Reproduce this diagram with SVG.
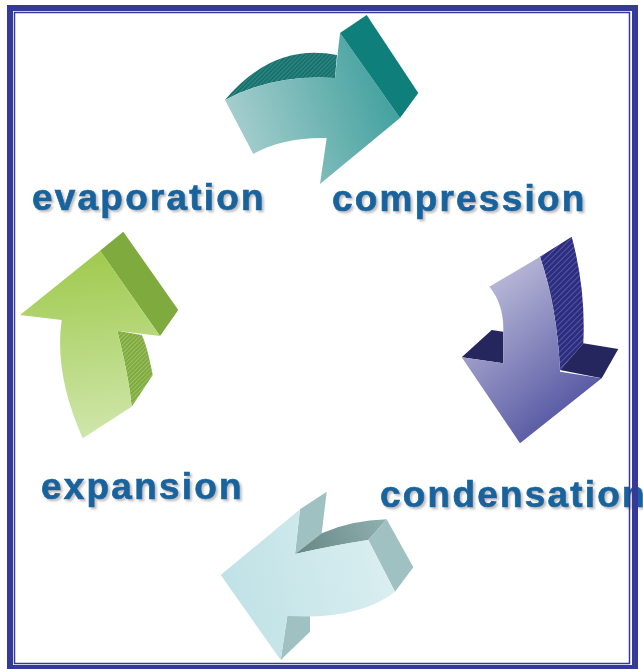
<svg xmlns="http://www.w3.org/2000/svg" width="643" height="669" viewBox="0 0 643 669">
<defs>
<linearGradient id="gTeal" gradientUnits="userSpaceOnUse" x1="235" y1="150" x2="400" y2="95">
<stop offset="0" stop-color="#a9cfcf"/><stop offset="1" stop-color="#3e9f9c"/>
</linearGradient>
<linearGradient id="gPurple" gradientUnits="userSpaceOnUse" x1="480" y1="290" x2="590" y2="420">
<stop offset="0" stop-color="#b9b8d8"/><stop offset="1" stop-color="#4b4d9d"/>
</linearGradient>
<linearGradient id="gCyan" gradientUnits="userSpaceOnUse" x1="230" y1="600" x2="400" y2="560">
<stop offset="0" stop-color="#c0e2e6"/><stop offset="1" stop-color="#dbeff1"/>
</linearGradient>
<linearGradient id="gCyanTop" gradientUnits="userSpaceOnUse" x1="300" y1="550" x2="385" y2="520">
<stop offset="0" stop-color="#6a8888"/><stop offset="1" stop-color="#8fb0b0"/>
</linearGradient>
<linearGradient id="gGreen" gradientUnits="userSpaceOnUse" x1="90" y1="260" x2="110" y2="440">
<stop offset="0" stop-color="#a2cb52"/><stop offset="1" stop-color="#d0e7ad"/>
</linearGradient>
<pattern id="hTeal" patternUnits="userSpaceOnUse" width="3" height="3" patternTransform="rotate(45)">
<rect width="3" height="3" fill="#19716d"/><rect width="1" height="3" fill="#2f8a86"/>
</pattern>
<pattern id="hPurple" patternUnits="userSpaceOnUse" width="4" height="4" patternTransform="rotate(45)">
<rect width="4" height="4" fill="#2c2d7e"/><rect width="1" height="4" fill="#5557a2"/>
</pattern>
<pattern id="hGreen" patternUnits="userSpaceOnUse" width="3" height="3" patternTransform="rotate(45)">
<rect width="3" height="3" fill="#80aa40"/><rect width="1" height="3" fill="#9cc262"/>
</pattern>
<filter id="shadow" x="-5%" y="-20%" width="115%" height="150%">
<feGaussianBlur in="SourceAlpha" stdDeviation="0.9" result="b"/>
<feOffset in="b" dx="2" dy="2" result="o"/>
<feFlood flood-color="#a8a8a8" flood-opacity="0.75"/>
<feComposite in2="o" operator="in" result="s"/>
<feMerge><feMergeNode in="s"/><feMergeNode in="SourceGraphic"/></feMerge>
</filter>
</defs>
<style>
.lbl{font-family:"Liberation Sans",Arial,sans-serif;font-weight:bold;font-size:37px;letter-spacing:2.2px;fill:#13649e;stroke:#13649e;stroke-width:0.7px;filter:url(#shadow)}
.frame{fill:none;stroke:#353a9a}
</style>
<rect width="643" height="669" fill="#ffffff"/>

<g id="connectors">
<g id="arrow-compression">
<path d="M225,100 Q273,42.5 337,55 L335,78 Q273,74 225,100 Z" fill="url(#hTeal)"/>
<path d="M225,100 Q273,74 335,78 L340,33 L400,118 L320,184 L326.7,138 Q283,137 253.3,154 Z" fill="url(#gTeal)"/>
<path d="M340,33 L366.7,15 L418.3,93 L400,118 Z" fill="#0e7f7b"/>
</g>
<g id="arrow-condensation">
<path d="M540,256.7 L571.7,236.7 Q586,290 583.3,343.3 L560,370 Q557,307 540,256.7 Z" fill="url(#hPurple)"/>
<path d="M461.7,357.3 L491.7,330 L503.3,331.7 L503.3,363.3 Z" fill="#26265f"/>
<path d="M560,370 L583.3,343.3 L618.3,349 L601.7,378.3 Z" fill="#26265f"/>
<path d="M489.3,286.7 Q504,304 503.3,331.7 L503.3,363.3 L461.7,357.3 L520,443.3 L601.7,378.3 L560,371.7 L560,370 Q557,307 540,256.7 Z" fill="url(#gPurple)"/>
</g>
<g id="arrow-expansion">
<path d="M300,509.3 L326.7,491.7 L321.7,533.3 L295,554 Z" fill="#9fc1c1"/>
<path d="M295,554 L321.7,533.3 Q352,520 386.7,519.3 L368.3,540 Q335,545 295,554 Z" fill="url(#gCyanTop)"/>
<path d="M368.3,540 L386.7,519.3 L413.3,567.3 L395,591.7 Z" fill="#9fc1c1"/>
<path d="M287.3,616 L310,616 L310,631.7 L280.7,660 Z" fill="#9fc1c1"/>
<path d="M220.7,575 L300,509.3 L295,554 Q335,545 368.3,540 L395,591.7 Q359,620 287.3,616 L280.7,660 Z" fill="url(#gCyan)"/>
</g>
<g id="arrow-evaporation">
<path d="M117.3,330.7 L141.7,335 Q147,345 152.7,375 L131.7,406.7 Q129,378 117.3,330.7 Z" fill="url(#hGreen)"/>
<path d="M100,250.7 L123.3,231.7 L178.3,310 L160,336 Z" fill="#7eaa3e"/>
<path d="M20,315 L100,250.7 L160,336 L117.3,330.7 Q129,378 131.7,406.7 L82.7,438.3 Q54,374 61.7,320 Z" fill="url(#gGreen)"/>
</g>
</g>

<g id="evaporation">
<text class="lbl" x="32" y="210">evaporation</text>
</g>
<g id="compression">
<text class="lbl" x="332" y="211">compression</text>
</g>
<g id="expansion">
<text class="lbl" x="41" y="499">expansion</text>
</g>
<g id="condensation">
<text class="lbl" x="380" y="507">condensation</text>
</g>

<g id="frame">
<rect class="frame" x="10" y="8" width="625" height="660" stroke-width="6"/>
<rect class="frame" x="14.5" y="12.5" width="615" height="651" stroke-width="1.5"/>
</g>
</svg>
